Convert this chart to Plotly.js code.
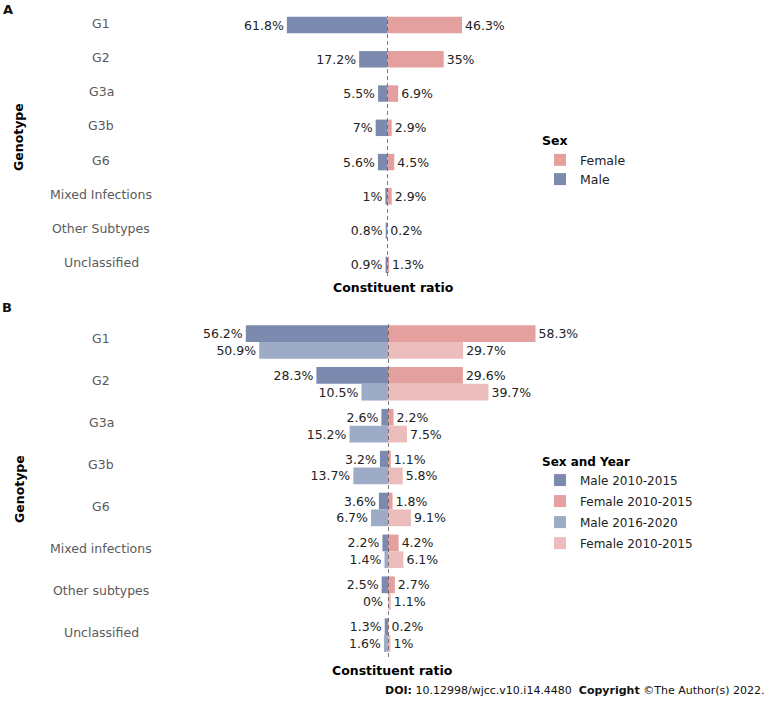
<!DOCTYPE html>
<html>
<head>
<meta charset="utf-8">
<script src="https://cdn.plot.ly/plotly-3.0.1.min.js"></script>
<style>
html,body{margin:0;padding:0;background:#fff;}
#chart{width:771px;height:701px;}
</style>
</head>
<body>
<div id="chart"></div>
<script>
// ---- Data ----
var catsA = ["G1", "G2", "G3a", "G3b", "G6", "Mixed Infections", "Other Subtypes", "Unclassified"];
var maleA = [61.8, 17.2, 5.5, 7, 5.6, 1, 0.8, 0.9];
var femaleA = [46.3, 35, 6.9, 2.9, 4.5, 2.9, 0.2, 1.3];

var catsB = ["G1", "G2", "G3a", "G3b", "G6", "Mixed infections", "Other subtypes", "Unclassified"];
var maleB1 = [56.2, 28.3, 2.6, 3.2, 3.6, 2.2, 2.5, 1.3];
var femaleB1 = [58.3, 29.6, 2.2, 1.1, 1.8, 4.2, 2.7, 0.2];
var maleB2 = [50.9, 10.5, 15.2, 13.7, 6.7, 1.4, 0, 1.6];
var femaleB2 = [29.7, 39.7, 7.5, 5.8, 9.1, 6.1, 1.1, 1];

var seriesNamesA = ["Female", "Male"];
var seriesNamesB = ["Male 2010-2015", "Female 2010-2015", "Male 2016-2020", "Female 2010-2015"];

// ---- Styles ----
var C_MALE = "#7b8aae", C_FEMALE = "#e3a09f", C_MALE2 = "#9eabc7", C_FEMALE2 = "#ebbdbc";
var FONT = "DejaVu Sans, Verdana, sans-serif";
var W = 771, H = 701;
function px(v){ return v / W; }
function py(v){ return 1 - v / H; }
function pct(arr){ return arr.map(function(v){ return v + "%"; }); }

var txtFont = {family: FONT, size: 12.5, color: "#222"};

// males are drawn on a reversed x axis (growing leftwards), females on a normal one
function barTrace(name, vals, cats, color, ax, legend, group, width, offset){
  var t = {
    type: "bar", orientation: "h", name: name,
    x: vals.slice(), y: cats,
    xaxis: ax[0], yaxis: ax[1],
    marker: {color: color, line: {width: 0}},
    text: pct(vals),
    // zero-length bars get their label from an annotation (see below)
    textposition: vals.map(function(v){ return v === 0 ? "none" : "outside"; }),
    textfont: txtFont,
    constraintext: "none", cliponaxis: false,
    width: width, legend: legend, legendgroup: group, showlegend: true,
    hoverinfo: "skip"
  };
  if (offset !== null) t.offset = offset;
  return t;
}

var data = [
  barTrace(seriesNamesA[0], femaleA, catsA, C_FEMALE, ["x","y"], "legend", "a1", 0.48, null),
  barTrace(seriesNamesA[1], maleA, catsA, C_MALE, ["x3","y"], "legend", "a2", 0.48, null),
  barTrace(seriesNamesB[0], maleB1, catsB, C_MALE, ["x4","y2"], "legend2", "b1", 0.4, -0.4),
  barTrace(seriesNamesB[1], femaleB1, catsB, C_FEMALE, ["x2","y2"], "legend2", "b2", 0.4, -0.4),
  barTrace(seriesNamesB[2], maleB2, catsB, C_MALE2, ["x4","y2"], "legend2", "b3", 0.4, 0),
  barTrace(seriesNamesB[3], femaleB2, catsB, C_FEMALE2, ["x2","y2"], "legend2", "b4", 0.4, 0)
];

// plot geometry (pixels)
var dL = 200, dR = 560;
var zeroA = 387, scaleA = 1.62;
var zeroB = 388, scaleB = 2.53;
var topA = 7.9, botA = 282;
var topB = 321, botB = 656;
var rowB = (botB - topB) / catsB.length;

function hx(o){ return Object.assign({showgrid:false, zeroline:false, showticklabels:false, showline:false, ticks:"", fixedrange:true}, o); }
function hy(o){ return Object.assign({type:"category", categoryorder:"array", showgrid:false, zeroline:false, showticklabels:false, showline:false, ticks:"", fixedrange:true}, o); }

var annotations = [];
catsA.forEach(function(c){
  annotations.push({xref:"paper", yref:"y", x:px(101), y:c, text:c, showarrow:false, xanchor:"center", yshift:2,
    font:{family:FONT, size:12.5, color:"#5a5a5a"}});
});
catsB.forEach(function(c){
  annotations.push({xref:"paper", yref:"y2", x:px(101), y:c, text:c, showarrow:false, xanchor:"center", yshift:3,
    font:{family:FONT, size:12.5, color:"#5a5a5a"}});
});
// labels for zero-length male bars (lower row of panel B), placed on the male side
maleB2.forEach(function(v, i){
  if (v === 0) {
    annotations.push({xref:"x4", yref:"y2", x:v, y:catsB[i], text:v + "%", showarrow:false,
      xanchor:"right", yanchor:"middle", xshift:-3, yshift:-rowB*0.2, font:txtFont});
  }
});
annotations.push(
  {xref:"paper", yref:"paper", x:px(393), y:py(287), text:"<b>Constituent ratio</b>", showarrow:false, xanchor:"center", yanchor:"middle", font:{family:FONT, size:12.5, color:"#000"}},
  {xref:"paper", yref:"paper", x:px(392), y:py(670), text:"<b>Constituent ratio</b>", showarrow:false, xanchor:"center", yanchor:"middle", font:{family:FONT, size:12.5, color:"#000"}},
  {xref:"paper", yref:"paper", x:px(18), y:py(137), text:"<b>Genotype</b>", textangle:-90, showarrow:false, xanchor:"center", yanchor:"middle", font:{family:FONT, size:12.5, color:"#000"}},
  {xref:"paper", yref:"paper", x:px(19), y:py(489), text:"<b>Genotype</b>", textangle:-90, showarrow:false, xanchor:"center", yanchor:"middle", font:{family:FONT, size:12.5, color:"#000"}},
  {xref:"paper", yref:"paper", x:px(1), y:py(9), text:"<b>A</b>", showarrow:false, xanchor:"left", yanchor:"middle", font:{family:FONT, size:13, color:"#111"}},
  {xref:"paper", yref:"paper", x:px(0), y:py(307), text:"<b>B</b>", showarrow:false, xanchor:"left", yanchor:"middle", font:{family:FONT, size:13, color:"#111"}},
  {xref:"paper", yref:"paper", x:px(767), y:py(690), text:"<b>DOI:</b> 10.12998/wjcc.v10.i14.4480  <b>Copyright</b> ©The Author(s) 2022.", showarrow:false, xanchor:"right", yanchor:"middle", font:{family:FONT, size:11, color:"#111"}}
);

var layout = {
  width: W, height: H,
  margin: {l:0, r:0, t:0, b:0, pad:0},
  paper_bgcolor: "#fff", plot_bgcolor: "rgba(0,0,0,0)",
  barmode: "overlay",
  font: {family: FONT, size: 12.5, color: "#222"},
  // panel A: female (x) right of zero, male (x3) left of zero on reversed axis
  xaxis:  hx({domain:[px(zeroA), px(dR)], range:[0, (dR-zeroA)/scaleA], anchor:"y"}),
  xaxis3: hx({domain:[px(dL), px(zeroA)], range:[(zeroA-dL)/scaleA, 0], anchor:"y"}),
  yaxis:  hy({domain:[py(botA), py(topA)], categoryarray:catsA, range:[catsA.length-0.5, -0.5], anchor:"x"}),
  // panel B
  xaxis2: hx({domain:[px(zeroB), px(dR)], range:[0, (dR-zeroB)/scaleB], anchor:"y2"}),
  xaxis4: hx({domain:[px(dL), px(zeroB)], range:[(zeroB-dL)/scaleB, 0], anchor:"y2"}),
  yaxis2: hy({domain:[py(botB), py(topB)], categoryarray:catsB, range:[catsB.length-0.5, -0.5], anchor:"x2"}),
  shapes: [
    {type:"line", xref:"x", yref:"paper", x0:0, x1:0, y0:py(276), y1:py(16), line:{color:"#555", width:1.5, dash:"4px,3px"}},
    {type:"line", xref:"x2", yref:"paper", x0:0, x1:0, y0:py(657), y1:py(322), line:{color:"#555", width:1.5, dash:"4px,3px"}}
  ],
  legend: {x:px(540), y:py(129), xanchor:"left", yanchor:"top", traceorder:"grouped",
           title:{text:"<b>Sex</b>", side:"top", font:{family:FONT, size:12.5, color:"#000"}},
           font:{family:FONT, size:12.5, color:"#222"}, bgcolor:"rgba(0,0,0,0)", tracegroupgap:0},
  legend2: {x:px(540), y:py(450), xanchor:"left", yanchor:"top", traceorder:"grouped",
           title:{text:"<b>Sex and Year</b>", side:"top", font:{family:FONT, size:12, color:"#000"}},
           font:{family:FONT, size:12, color:"#222"}, bgcolor:"rgba(0,0,0,0)", tracegroupgap:2},
  annotations: annotations,
  showlegend: true
};

Plotly.newPlot("chart", data, layout, {displayModeBar:false, staticPlot:true});
</script>
</body>
</html>
